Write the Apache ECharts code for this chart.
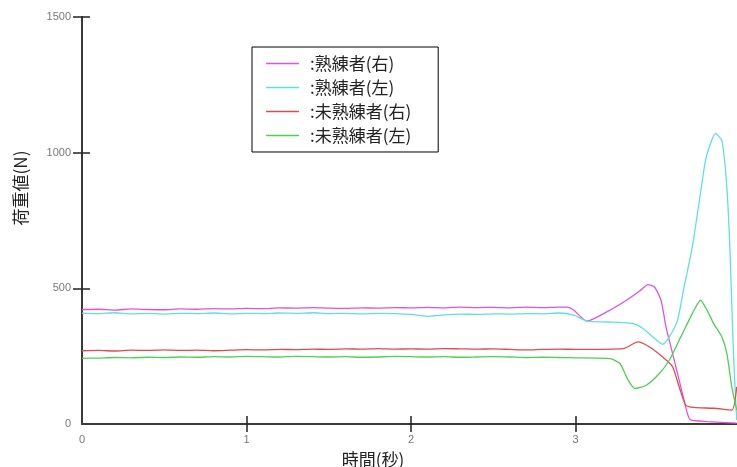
<!DOCTYPE html>
<html>
<head>
<meta charset="utf-8">
<script src="https://cdn.jsdelivr.net/npm/echarts@6/dist/echarts.min.js"></script>
<style>
html, body { margin: 0; padding: 0; background: #fff; }
#main { width: 737px; height: 467px; }
</style>
</head>
<body>
<div id="main"></div>
<script>
// 系列名
var seriesNames = ['熟練者(右)', '熟練者(左)', '未熟練者(右)', '未熟練者(左)'];
var lineColors = ['#e052e0', '#5edfe6', '#e04b4b', '#4fcf55'];

// [時間(秒), 荷重値(N)]
var skilledRight = [
  [0, 422], [0.1, 423], [0.2, 420], [0.3, 424], [0.4, 422], [0.5, 421], [0.6, 424], [0.7, 423],
  [0.8, 425], [0.9, 424], [1.0, 426], [1.1, 425], [1.2, 428], [1.3, 427], [1.4, 429], [1.5, 427],
  [1.6, 426], [1.7, 428], [1.8, 427], [1.9, 429], [2.0, 428], [2.1, 430], [2.2, 428], [2.3, 431],
  [2.4, 429], [2.5, 430], [2.6, 428], [2.7, 431], [2.8, 429], [2.9, 431], [2.95, 431], [2.99, 419],
  [3.07, 379], [3.19, 413], [3.31, 456], [3.39, 490], [3.44, 514], [3.48, 505], [3.52, 456],
  [3.55, 358], [3.59, 260], [3.64, 137], [3.68, 39], [3.70, 15], [3.80, 9], [3.98, 3]
];
var skilledLeft = [
  [0, 409], [0.1, 407], [0.2, 410], [0.3, 406], [0.4, 408], [0.5, 405], [0.6, 408], [0.7, 407],
  [0.8, 409], [0.9, 406], [1.0, 408], [1.1, 407], [1.2, 409], [1.3, 408], [1.4, 410], [1.5, 407],
  [1.6, 408], [1.7, 406], [1.8, 408], [1.9, 407], [2.0, 404], [2.1, 397], [2.2, 402], [2.3, 405],
  [2.4, 404], [2.5, 406], [2.6, 405], [2.7, 407], [2.8, 406], [2.9, 409], [2.99, 401],
  [3.07, 379], [3.19, 376], [3.35, 370], [3.41, 352], [3.47, 321], [3.53, 294], [3.57, 321],
  [3.62, 382], [3.66, 505], [3.71, 652], [3.75, 811], [3.79, 971], [3.82, 1032], [3.85, 1071],
  [3.89, 1044], [3.92, 872], [3.94, 627], [3.96, 260], [3.98, 15]
];
var unskilledRight = [
  [0, 270], [0.1, 271], [0.2, 269], [0.3, 272], [0.4, 271], [0.5, 273], [0.6, 271], [0.7, 272],
  [0.8, 270], [0.9, 272], [1.0, 274], [1.1, 273], [1.2, 275], [1.3, 274], [1.4, 276], [1.5, 275],
  [1.6, 277], [1.7, 276], [1.8, 278], [1.9, 276], [2.0, 277], [2.1, 276], [2.2, 278], [2.3, 277],
  [2.4, 276], [2.5, 277], [2.6, 275], [2.7, 273], [2.8, 275], [2.9, 276], [3.0, 275],
  [3.29, 278], [3.38, 303], [3.45, 284], [3.53, 247], [3.59, 211], [3.63, 137], [3.67, 70],
  [3.72, 61], [3.84, 58], [3.95, 51], [3.98, 137]
];
var unskilledLeft = [
  [0, 242], [0.1, 243], [0.2, 245], [0.3, 244], [0.4, 246], [0.5, 245], [0.6, 247], [0.7, 246],
  [0.8, 248], [0.9, 247], [1.0, 249], [1.1, 248], [1.2, 247], [1.3, 249], [1.4, 248], [1.5, 247],
  [1.6, 248], [1.7, 246], [1.8, 247], [1.9, 249], [2.0, 248], [2.1, 247], [2.2, 248], [2.3, 246],
  [2.4, 247], [2.5, 248], [2.6, 247], [2.7, 245], [2.8, 246], [2.9, 245], [3.0, 244],
  [3.21, 241], [3.27, 223], [3.32, 162], [3.36, 131], [3.43, 143], [3.51, 186], [3.57, 235],
  [3.64, 321], [3.71, 407], [3.76, 456], [3.80, 419], [3.84, 370], [3.89, 321], [3.92, 260],
  [3.95, 137], [3.98, 51]
];

var xTicks = [1, 2, 3];
var yTicks = [500, 1000, 1500];

var myChart = echarts.init(document.getElementById('main'));

var lineData = [skilledRight, skilledLeft, unskilledRight, unskilledLeft];
var series = [];
for (var i = 0; i < lineData.length; i++) {
  series.push({
    name: seriesNames[i],
    type: 'line',
    symbol: 'none',
    smooth: 0.2,
    animation: false,
    lineStyle: { color: lineColors[i], width: 1.3 },
    itemStyle: { color: lineColors[i] },
    data: lineData[i]
  });
}

var labelFont = { color: '#777', fontSize: 11, fontFamily: 'Liberation Sans Narrow, Liberation Sans, sans-serif' };

var option = {
  backgroundColor: '#fff',
  animation: false,
  grid: { left: 82, right: -3, top: 17, bottom: 43, outerBoundsMode: 'none' },
  legend: {
    orient: 'vertical',
    left: 252,
    top: 47,
    padding: [8, 27, 8, 14],
    itemGap: 7,
    itemWidth: 33,
    itemHeight: 1.5,
    icon: 'rect',
    borderColor: '#000',
    borderWidth: 1,
    backgroundColor: '#fff',
    formatter: ':{name}',
    textStyle: {
      color: '#222',
      fontSize: 17,
      fontFamily: 'Noto Sans CJK JP',
      padding: [0, 0, 0, 6]
    },
    data: seriesNames
  },
  xAxis: [{
    type: 'value',
    min: 0,
    max: 4,
    interval: 1,
    axisLine: { lineStyle: { color: '#3a3a3a', width: 2 } },
    axisTick: { length: 8, customValues: xTicks, lineStyle: { color: '#222', width: 1.5 } },
    axisLabel: Object.assign({ margin: 10 }, labelFont),
    splitLine: { show: false }
  }, {
    type: 'value',
    position: 'bottom',
    min: 0,
    max: 4,
    interval: 1,
    axisLine: { show: false },
    axisTick: { inside: true, length: 8, customValues: xTicks, lineStyle: { color: '#222', width: 1.5 } },
    axisLabel: { show: false },
    splitLine: { show: false }
  }],
  yAxis: [{
    type: 'value',
    min: 0,
    max: 1500,
    interval: 500,
    axisLine: { show: true, lineStyle: { color: '#3a3a3a', width: 2 } },
    axisTick: { show: true, length: 9, customValues: yTicks, lineStyle: { color: '#222', width: 1.5 } },
    axisLabel: Object.assign({ margin: 11, formatter: function (v) { return String(v); } }, labelFont),
    splitLine: { show: false }
  }, {
    type: 'value',
    position: 'left',
    offset: 0,
    min: 0,
    max: 1500,
    interval: 500,
    axisLine: { show: false },
    axisTick: { show: true, inside: true, length: 8, customValues: yTicks, lineStyle: { color: '#222', width: 1.5 } },
    axisLabel: { show: false },
    splitLine: { show: false }
  }],
  graphic: [{
    type: 'text',
    x: 21,
    y: 188,
    rotation: Math.PI / 2,
    style: {
      text: '荷重値(N)',
      fill: '#222',
      fontSize: 17,
      fontFamily: 'Noto Sans CJK JP',
      textAlign: 'center',
      textVerticalAlign: 'middle'
    }
  }, {
    type: 'text',
    x: 373,
    y: 460,
    style: {
      text: '時間(秒)',
      fill: '#222',
      fontSize: 17,
      fontFamily: 'Noto Sans CJK JP',
      textAlign: 'center',
      textVerticalAlign: 'middle'
    }
  }],
  series: series
};

myChart.setOption(option);
</script>
</body>
</html>
